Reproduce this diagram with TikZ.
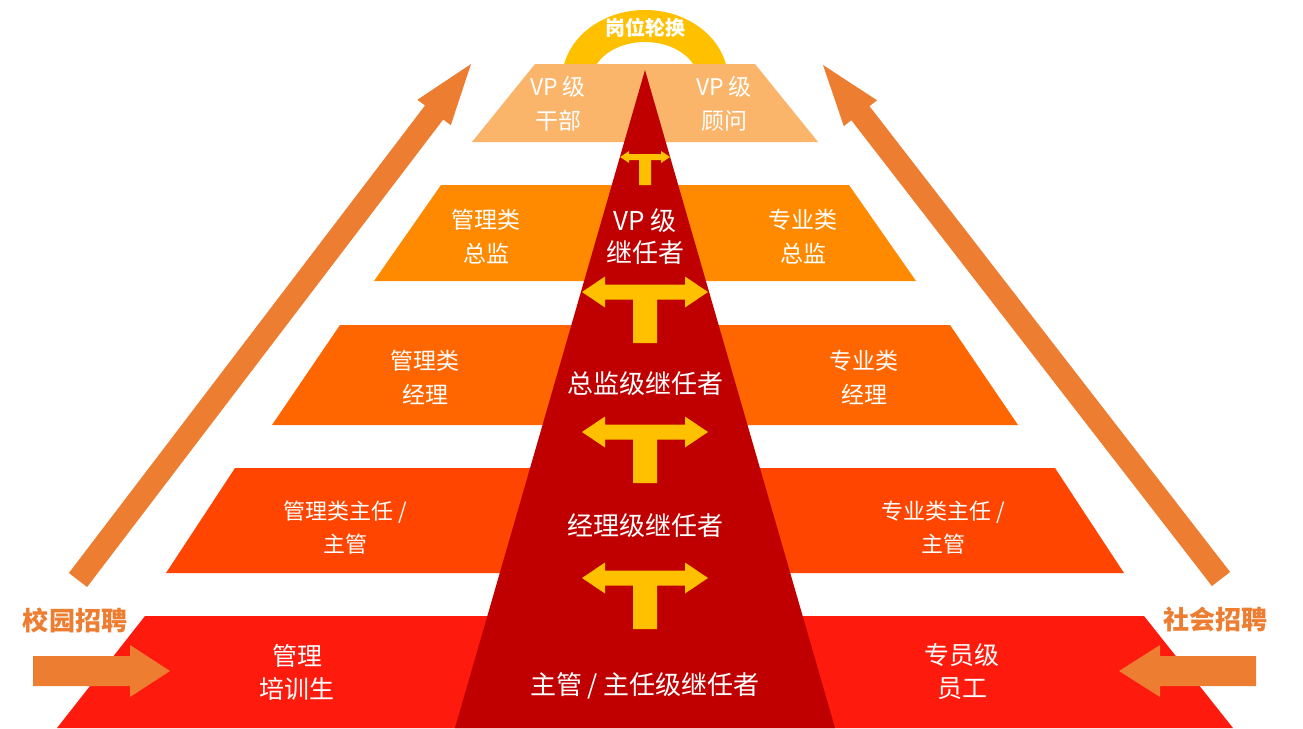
\documentclass[tikz,border=0pt]{standalone}
\usepackage{fontspec}
\setmainfont{Noto Sans CJK SC}
\definecolor{tierA}{HTML}{FBB56B}
\definecolor{tierB}{HTML}{FF8A00}
\definecolor{tierC}{HTML}{FF6600}
\definecolor{tierD}{HTML}{FF4500}
\definecolor{tierE}{HTML}{FE1A0C}
\definecolor{darkred}{HTML}{C00000}
\definecolor{gold}{HTML}{FFC000}
\definecolor{arroworange}{HTML}{ED7D31}
\tikzset{
  tiertext/.style={text=white, align=center, inner sep=0pt, font=\fontsize{23}{34}\selectfont},
  bigtext/.style={text=white, align=center, inner sep=0pt, font=\fontsize{26}{32}\selectfont},
  sidelabel/.style={text=arroworange, inner sep=0pt, font=\fontsize{26}{30}\selectfont\bfseries},
  bigT/.pic={\fill[gold] (-63,0) -- (-40,-15.5) -- (-40,-7.5) -- (40,-7.5) -- (40,-15.5) -- (63,0) -- (40,15.5) -- (40,7.5) -- (12,7.5) -- (12,51) -- (-12,51) -- (-12,7.5) -- (-40,7.5) -- (-40,15.5) -- cycle;},
  smallT/.pic={\fill[gold] (-25,0) -- (-16,-6) -- (-16,-3) -- (16,-3) -- (16,-6) -- (25,0) -- (16,6) -- (16,3) -- (6,3) -- (6,28) -- (-6,28) -- (-6,3) -- (-16,3) -- (-16,6) -- cycle;}
}
\begin{document}
\begin{tikzpicture}[x=1pt,y=-1pt]
\useasboundingbox[fill=white] (0,0) rectangle (1303,728);
% rotation arc
\begin{scope}
\clip (0,0) rectangle (1303,64);
\fill[gold, even odd rule] (645,80) ellipse [x radius=83, y radius=70] (645,80) ellipse [x radius=53, y radius=38];
\end{scope}
\node[text=white, inner sep=0pt, font=\fontsize{20}{24}\selectfont\bfseries] (rot) at (645,28) {岗位轮换};
% tiers
\fill[tierA] (472,142) -- (535,64) -- (755,64) -- (818,142) -- cycle;
\fill[tierB] (374,281) -- (441,185) -- (849,185) -- (916,281) -- cycle;
\fill[tierC] (272,425) -- (340,325) -- (950,325) -- (1018,425) -- cycle;
\fill[tierD] (166,573) -- (235,468) -- (1055,468) -- (1124,573) -- cycle;
\fill[tierE] (57,728) -- (145,616) -- (1144,616) -- (1233,728) -- cycle;
% central triangle
\fill[darkred] (455,728) -- (645,70) -- (835,728) -- cycle;
% T arrows
\pic at (645,157) {smallT};
\pic at (645,292) {bigT};
\pic at (645,432) {bigT};
\pic at (645,578) {bigT};
% tier texts
\node[tiertext] (t1l) at (558,104) {VP 级\\干部};
\node[tiertext] (t1r) at (724,104) {VP 级\\顾问};
\node[tiertext] (t2l) at (486,237) {管理类\\总监};
\node[tiertext] (t2r) at (803,237) {专业类\\总监};
\node[tiertext] (t3l) at (425,377) {管理类\\经理};
\node[tiertext] (t3r) at (864,377) {专业类\\经理};
\node[tiertext, font=\fontsize{22}{33}\selectfont] (t4l) at (345,528) {管理类主任 /\\主管};
\node[tiertext, font=\fontsize{22}{33}\selectfont] (t4r) at (943,528) {专业类主任 /\\主管};
\node[tiertext, font=\fontsize{25}{33}\selectfont] (t5l) at (297,672) {管理\\培训生};
\node[tiertext, font=\fontsize{25}{33}\selectfont] (t5r) at (962,672) {专员级\\员工};
% central texts
\node[bigtext] (c1) at (645,237) {VP 级\\继任者};
\node[bigtext] (c2) at (645,384) {总监级继任者};
\node[bigtext] (c3) at (645,526) {经理级继任者};
\node[bigtext] (c4) at (645,686) {主管 / 主任级继任者};
% diagonal arrows
\fill[arroworange] (87.1,587) -- (443.2,119.5) -- (450.8,125.2) -- (471,64) -- (417.4,99.8) -- (425,105.5) -- (68.9,573) -- cycle;
\fill[arroworange] (1230.1,572) -- (869.5,106.2) -- (877,100.3) -- (823,65) -- (843.8,126.1) -- (851.3,120.2) -- (1211.9,586) -- cycle;
% horizontal arrows
\fill[arroworange] (33,656) -- (130,656) -- (130,645) -- (170,671) -- (130,697) -- (130,686) -- (33,686) -- cycle;
\fill[arroworange] (1256,656) -- (1160,656) -- (1160,645) -- (1119,671) -- (1160,697) -- (1160,686) -- (1256,686) -- cycle;
% side labels
\node[sidelabel] (campus) at (75,620) {校园招聘};
\node[sidelabel] (social) at (1215,620) {社会招聘};
\end{tikzpicture}
\end{document}
